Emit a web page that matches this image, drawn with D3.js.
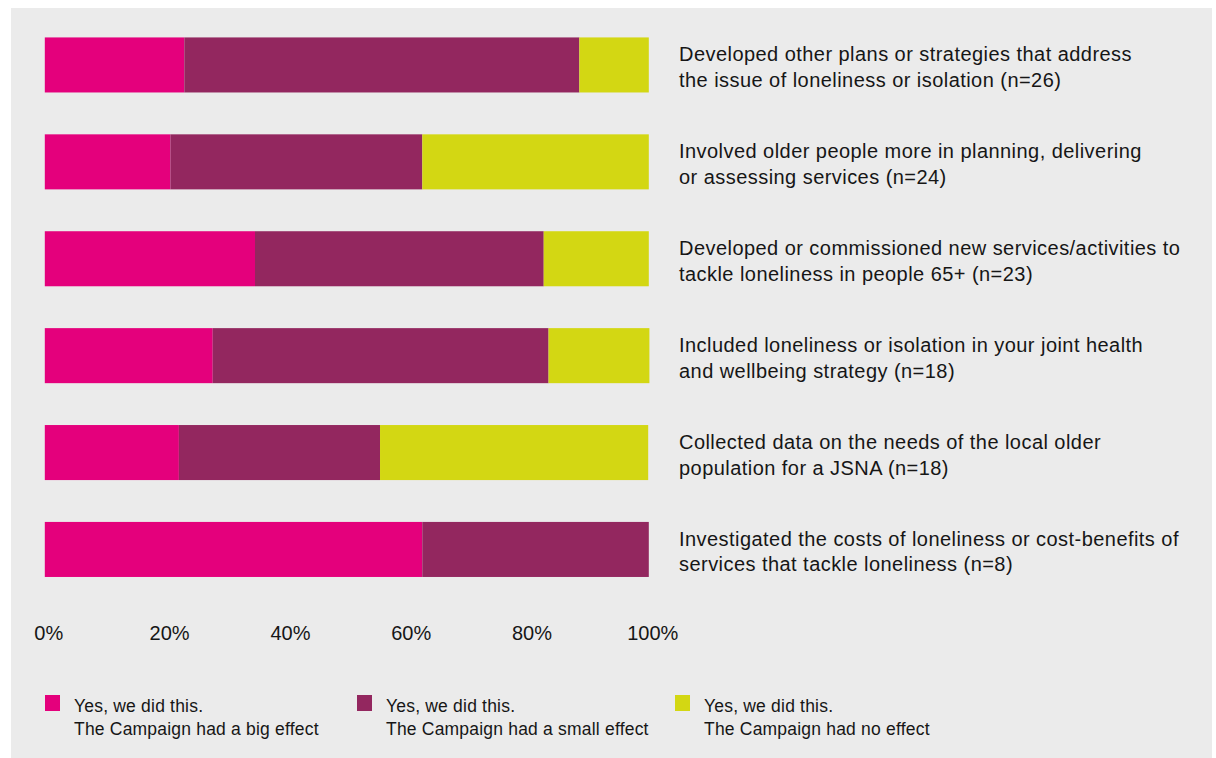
<!DOCTYPE html>
<html>
<head>
<meta charset="utf-8">
<script src="https://cdn.jsdelivr.net/npm/d3@7/dist/d3.min.js"></script>
<style>
  html, body { margin: 0; padding: 0; background: #ffffff; }
  svg { display: block; }
  text { font-family: "Liberation Sans", Arial, Helvetica, sans-serif; fill: #161616; }
</style>
</head>
<body>
<svg id="chart" width="1216" height="758"></svg>
<script>
// Activities undertaken, with the share of respondents per reported Campaign effect (%)
const categories = [
  ["Developed other plans or strategies that address", "the issue of loneliness or isolation (n=26)"],
  ["Involved older people more in planning, delivering", "or assessing services (n=24)"],
  ["Developed or commissioned new services/activities to", "tackle loneliness in people 65+ (n=23)"],
  ["Included loneliness or isolation in your joint health", "and wellbeing strategy (n=18)"],
  ["Collected data on the needs of the local older", "population for a JSNA (n=18)"],
  ["Investigated the costs of loneliness or cost-benefits of", "services that tackle loneliness (n=8)"]
];
const bigEffect   = [23.1, 20.8, 34.8, 27.8, 22.2, 62.5];
const smallEffect = [65.4, 41.7, 47.8, 55.6, 33.3, 37.5];
const noEffect    = [11.5, 37.5, 17.4, 16.7, 44.4, 0];

const seriesKeys = ["big", "small", "none"];
const seriesLabels = [
  ["Yes, we did this.", "The Campaign had a big effect"],
  ["Yes, we did this.", "The Campaign had a small effect"],
  ["Yes, we did this.", "The Campaign had no effect"]
];
const seriesColors = ["#e4007c", "#93275f", "#d3d713"];
const tickValues = [0, 20, 40, 60, 80, 100];

const rows = categories.map((c, i) => ({
  id: i, big: bigEffect[i], small: smallEffect[i], none: noEffect[i]
}));

const svg = d3.select("#chart");

// grey panel behind the chart
svg.append("rect")
  .attr("x", 11).attr("y", 8)
  .attr("width", 1201).attr("height", 760)
  .attr("fill", "#ebebeb");

const x = d3.scaleLinear().domain([0, 100]).range([44.8, 648.8]);
const y = d3.scaleBand()
  .domain(rows.map(d => d.id))
  .range([16.5, 597.9])
  .paddingInner(0.432)
  .paddingOuter(0.216);
const color = d3.scaleOrdinal().domain(seriesKeys).range(seriesColors);

const stacked = d3.stack().keys(seriesKeys)(rows);

svg.append("g")
  .selectAll("g")
  .data(stacked)
  .join("g")
  .attr("fill", s => color(s.key))
  .selectAll("rect")
  .data(s => s)
  .join("rect")
  .attr("x", d => x(d[0]))
  .attr("y", d => y(d.data.id))
  .attr("width", d => Math.max(0, x(d[1]) - x(d[0])))
  .attr("height", y.bandwidth());

// category labels to the right of the bars
const labels = svg.append("g")
  .selectAll("text")
  .data(rows)
  .join("text")
  .attr("x", 679)
  .attr("y", d => y(d.id) + y.bandwidth() / 2 - 3.5)
  .style("font-size", "20px")
  .style("letter-spacing", "0.45px");
labels.selectAll("tspan")
  .data(d => categories[d.id])
  .join("tspan")
  .attr("x", 679)
  .attr("dy", (t, i) => i === 0 ? 0 : 25.5)
  .text(t => t);

// percentage axis beneath the bars
const axis = d3.axisBottom(x)
  .tickValues(tickValues)
  .tickSize(0)
  .tickFormat(v => v + "%");
const axisG = svg.append("g")
  .attr("transform", "translate(0,640)")
  .call(axis);
axisG.select(".domain").remove();
axisG.selectAll("text")
  .attr("y", 0).attr("dy", 0).attr("dx", 3.5)
  .style("font-size", "20px")
  .style("font-family", "\"Liberation Sans\", Arial, Helvetica, sans-serif")
  .attr("fill", "#161616");

// legend
const legendX = [45, 357, 675];
const legend = svg.append("g")
  .selectAll("g")
  .data(seriesKeys)
  .join("g")
  .attr("transform", (k, i) => `translate(${legendX[i]},695)`);
legend.append("rect")
  .attr("width", 15).attr("height", 16)
  .attr("fill", k => color(k));
legend.append("text")
  .attr("x", 29).attr("y", 16.5)
  .style("font-size", "17.5px")
  .style("letter-spacing", "0.2px")
  .selectAll("tspan")
  .data((k, i) => seriesLabels[i])
  .join("tspan")
  .attr("x", 29)
  .attr("dy", (t, i) => i === 0 ? 0 : 23)
  .text(t => t);
</script>
</body>
</html>
